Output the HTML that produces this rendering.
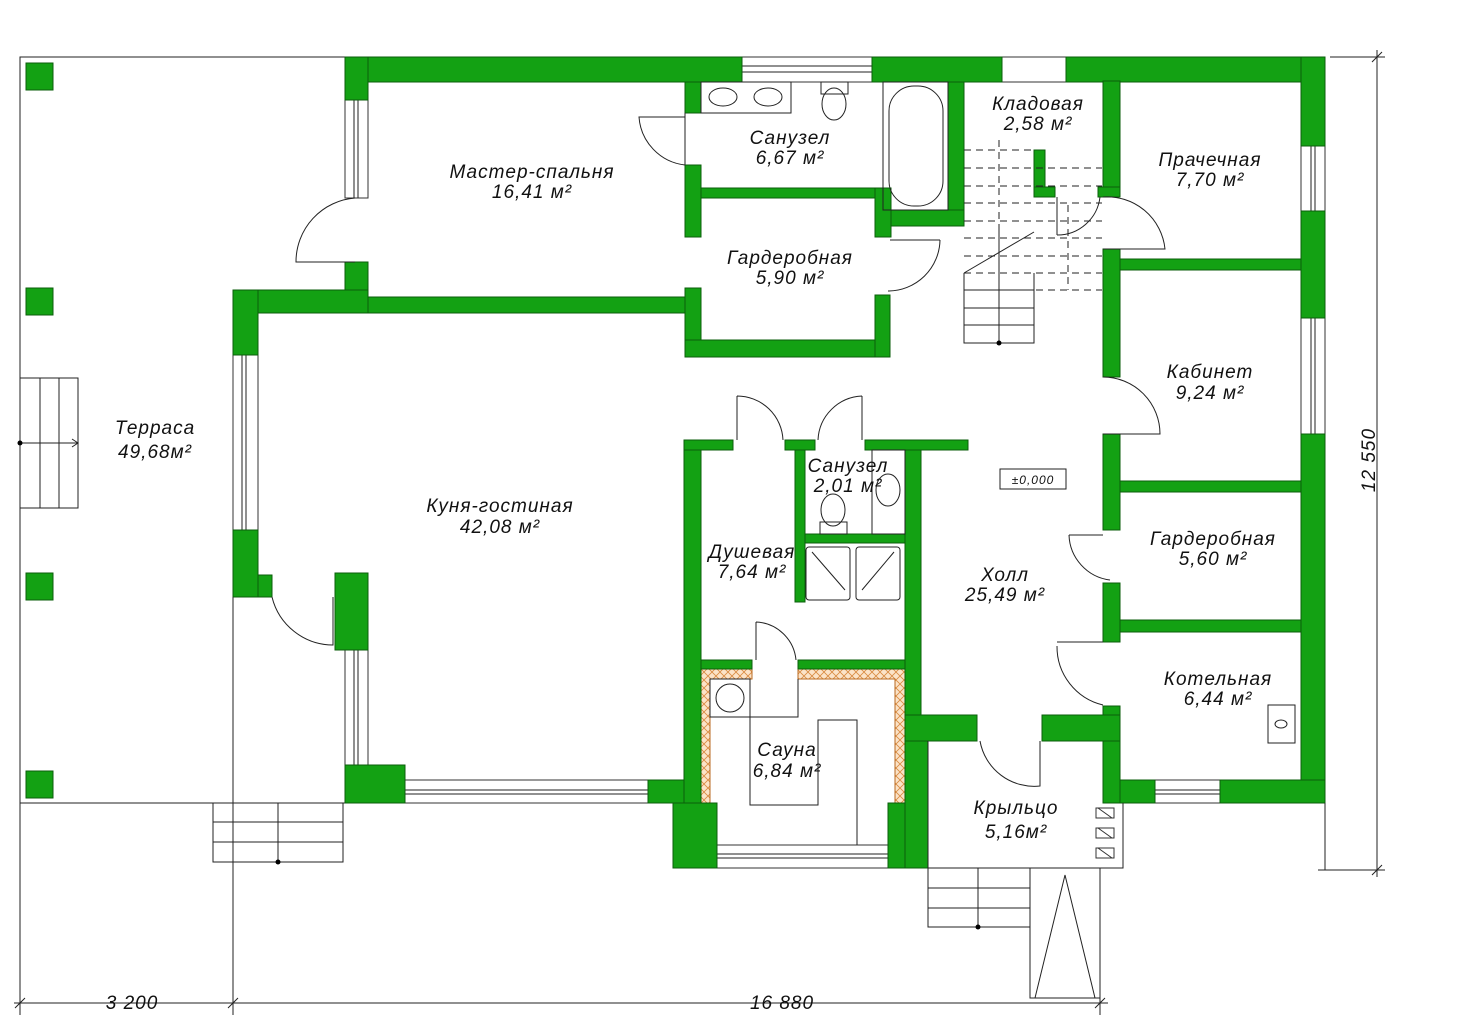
<!DOCTYPE html><html><head><meta charset="utf-8"><style>
html,body{margin:0;padding:0;background:#fff}
svg{display:block}
text{font-family:"Liberation Sans","DejaVu Sans",sans-serif;font-style:italic;font-size:19px;fill:#111;text-anchor:middle;letter-spacing:1px}
.w{fill:#13a113;stroke:#0b5e0b;stroke-width:1}
.l{fill:none;stroke:#222;stroke-width:1}
.win{fill:#fff;stroke:#333;stroke-width:1}
</style></head><body>
<svg width="1463" height="1021" viewBox="0 0 1463 1021">
<defs><pattern id="hx" width="8" height="8" patternUnits="userSpaceOnUse"><rect width="8" height="8" fill="#fbe3c8"/><path d="M0 0L8 8M8 0L0 8" stroke="#d98a40" stroke-width="0.8"/></pattern></defs>
<path class="l" d="M345 57H20V803H345" stroke="#555"/>
<rect class="w" x="26" y="63" width="27" height="27"/><rect class="w" x="26" y="288" width="27" height="27"/>
<rect class="w" x="26" y="573" width="27" height="27"/><rect class="w" x="26" y="771" width="27" height="27"/>
<rect class="l" x="20" y="378" width="58" height="130"/><path class="l" d="M40 378V508M59 378V508M20 443H78M72 439L78 443L72 447"/><circle cx="20" cy="443" r="2.5"/>
<rect class="win" x="742" y="57" width="130" height="25"/><path class="l" d="M742 66H872M742 72H872"/>
<rect class="win" x="1002" y="57" width="64" height="25"/>
<rect class="win" x="345" y="100" width="23" height="98"/><path class="l" d="M354 100V198M358 100V198"/>
<rect class="win" x="233" y="355" width="25" height="175"/><path class="l" d="M242 355V530M246 355V530"/>
<rect class="win" x="345" y="650" width="23" height="115"/><path class="l" d="M354 650V765M358 650V765"/>
<rect class="win" x="405" y="780" width="243" height="23"/><path class="l" d="M405 790H648M405 794H648"/>
<rect class="win" x="717" y="845" width="171" height="23"/><path class="l" d="M717 854H888M717 858H888"/>
<rect class="win" x="1155" y="780" width="65" height="23"/><path class="l" d="M1155 790H1220M1155 794H1220"/>
<rect class="win" x="1301" y="146" width="24" height="65"/><path class="l" d="M1311 146V211M1315 146V211"/>
<rect class="win" x="1301" y="318" width="24" height="116"/><path class="l" d="M1311 318V434M1315 318V434"/>
<path d="M700 669H752V679H710V835H717V845H700Z M798 669H905V845H888V835H895V679H798Z" fill="url(#hx)" stroke="#b86a20" stroke-width="1"/>
<g class="w">
<rect x="345" y="57" width="397" height="25"/><rect x="345" y="57" width="23" height="43"/>
<rect x="872" y="57" width="130" height="25"/><rect x="1066" y="57" width="259" height="25"/>
<rect x="1301" y="57" width="24" height="89"/><rect x="1301" y="211" width="24" height="107"/><rect x="1301" y="434" width="24" height="369"/>
<rect x="1220" y="780" width="105" height="23"/><rect x="1103" y="780" width="52" height="23"/>
<rect x="1103" y="706" width="17" height="97"/>
<rect x="1103" y="81" width="17" height="112"/><rect x="1098" y="187" width="22" height="10"/>
<rect x="1103" y="249" width="17" height="128"/><rect x="1103" y="434" width="17" height="96"/>
<rect x="1103" y="583" width="17" height="59"/>
<rect x="1120" y="259" width="181" height="11"/><rect x="1120" y="481" width="181" height="11"/><rect x="1120" y="620" width="181" height="12"/>
<rect x="948" y="82" width="16" height="144"/><rect x="875" y="210" width="89" height="16"/><rect x="875" y="188" width="16" height="49"/>
<rect x="685" y="82" width="16" height="31"/><rect x="685" y="165" width="16" height="72"/><rect x="701" y="188" width="174" height="10"/>
<rect x="685" y="288" width="16" height="69"/><rect x="685" y="340" width="205" height="17"/><rect x="875" y="295" width="15" height="62"/>
<rect x="1034" y="150" width="11" height="47"/><rect x="1034" y="187" width="21" height="10"/>
<rect x="345" y="262" width="23" height="51"/><rect x="233" y="290" width="135" height="23"/><rect x="368" y="297" width="317" height="16"/>
<rect x="233" y="290" width="25" height="65"/><rect x="233" y="530" width="25" height="67"/><rect x="258" y="575" width="14" height="22"/>
<rect x="335" y="573" width="33" height="77"/><rect x="345" y="765" width="60" height="38"/>
<rect x="648" y="780" width="53" height="23"/><rect x="684" y="440" width="17" height="428"/><rect x="673" y="803" width="44" height="65"/>
<rect x="684" y="440" width="49" height="10"/><rect x="785" y="440" width="30" height="10"/><rect x="865" y="440" width="103" height="10"/>
<rect x="795" y="450" width="10" height="152"/><rect x="805" y="534" width="100" height="9"/>
<rect x="905" y="450" width="16" height="265"/>
<rect x="701" y="660" width="51" height="9"/><rect x="798" y="660" width="107" height="9"/>
<rect x="888" y="803" width="40" height="65"/><rect x="905" y="715" width="23" height="153"/><rect x="905" y="715" width="72" height="26"/>
<rect x="1042" y="715" width="78" height="26"/>
</g>
<path class="l" d="M928 741V868H1123V803"/>
<g fill="#fff" stroke="#333"><rect x="1096" y="808" width="18" height="10"/><rect x="1096" y="828" width="18" height="10"/><rect x="1096" y="848" width="18" height="10"/></g>
<path d="M1098 808l14 10M1098 828l14 10M1098 848l14 10" stroke="#333"/>
<g class="l">
<path d="M355 198A64 64 0 0 0 296 262H355"/>
<path d="M272 597A63 63 0 0 0 333 645V597"/>
<path d="M685 113V165M685 165A52 52 0 0 1 639 117H685"/>
<path d="M890 240H940M940 240A52 52 0 0 1 888 291"/>
<path d="M1103 197A58 58 0 0 1 1165 249H1103"/>
<path d="M1103 377A57 57 0 0 1 1160 434H1103"/>
<path d="M1103 535H1069M1069 535A47 47 0 0 0 1110 580"/>
<path d="M1103 642H1057M1057 646A60 60 0 0 0 1103 705"/>
<path d="M737 440V396M737 396A46 46 0 0 1 783 440"/>
<path d="M862 440V396M862 396A46 46 0 0 0 818 440"/>
<path d="M756 660V622M756 622A42 42 0 0 1 796 660"/>
<path d="M980 741A55 55 0 0 0 1040 786V741"/>
<path d="M1057 197V235M1057 235A43 43 0 0 0 1100 197"/>
</g>
<g class="l">
<rect x="701" y="82" width="90" height="31"/><ellipse cx="723" cy="97" rx="14" ry="9"/><ellipse cx="768" cy="97" rx="14" ry="9"/>
<rect x="821" y="82" width="27" height="12"/><ellipse cx="834" cy="104" rx="12" ry="16"/>
<rect x="883" y="82" width="65" height="128"/><rect x="889" y="86" width="54" height="120" rx="25"/>
<rect x="872" y="450" width="33" height="84"/><ellipse cx="888" cy="490" rx="12" ry="16"/>
<ellipse cx="833" cy="510" rx="12" ry="16"/><rect x="820" y="522" width="27" height="12"/>
<rect x="806" y="547" width="44" height="53" rx="3"/><rect x="856" y="547" width="44" height="53" rx="3"/>
<path d="M812 552L845 590M894 552L862 590"/>
<rect x="710" y="679" width="40" height="38"/><circle cx="730" cy="698" r="14"/>
<path d="M750 679V805H818V720H857V845M750 717H798V679"/>
<rect x="1268" y="705" width="27" height="38"/><ellipse cx="1281" cy="724" rx="6" ry="4"/>
<rect x="1000" y="469" width="66" height="20"/>
</g>
<text x="1033" y="484" style="font-size:12px">±0,000</text>
<g class="l">
<path d="M964 273V343H1034V273M964 290H1034M964 308H1034M964 325H1034M999 230V343"/>
<path d="M964 273L1034 232" />
<path d="M964 150H1034M964 168H1102M964 186H1102M964 203H1102M964 221H1102M964 238H1102M964 256H1102M964 273H1102M964 290H1102" stroke-dasharray="7 5"/>
<path d="M999 140V230M1068 205V290" stroke-dasharray="7 5"/>
</g>
<circle cx="999" cy="343" r="2.5"/>
<g class="l">
<rect x="213" y="803" width="130" height="59"/><path d="M213 822H343M213 842H343M278 803V862"/>
<rect x="928" y="868" width="102" height="59"/><path d="M928 888H1030M928 908H1030M978 868V927"/>
<rect x="1030" y="868" width="70" height="130"/><path d="M1035 998L1065 875L1095 998"/>
</g>
<circle cx="278" cy="862" r="2.5"/><circle cx="978" cy="927" r="2.5"/>
<g class="l" stroke="#444">
<path d="M20 803V1015M233 597V1015M1100 998V1015M14 1003H1108M1325 803V870M1318 870H1385M1330 57H1385M1377 50V877"/>
<path d="M15 1008L25 998M228 1008L238 998M1095 1008L1105 998M1372 62L1382 52M1372 875L1382 865"/>
</g>
<text x="132" y="1009">3 200</text><text x="782" y="1009">16 880</text>
<text transform="translate(1375,460) rotate(-90)">12 550</text>
<text x="155" y="434">Терраса</text><text x="155" y="458">49,68м²</text>
<text x="532" y="178">Мастер-спальня</text><text x="532" y="198">16,41 м²</text>
<text x="790" y="144">Санузел</text><text x="790" y="164">6,67 м²</text>
<text x="790" y="264">Гардеробная</text><text x="790" y="284">5,90 м²</text>
<text x="1038" y="110">Кладовая</text><text x="1038" y="130">2,58 м²</text>
<text x="1210" y="166">Прачечная</text><text x="1210" y="186">7,70 м²</text>
<text x="1210" y="378">Кабинет</text><text x="1210" y="399">9,24 м²</text>
<text x="500" y="512">Куня-гостиная</text><text x="500" y="533">42,08 м²</text>
<text x="848" y="472">Санузел</text><text x="848" y="492">2,01 м²</text>
<text x="752" y="558">Душевая</text><text x="752" y="578">7,64 м²</text>
<text x="1005" y="581">Холл</text><text x="1005" y="601">25,49 м²</text>
<text x="1213" y="545">Гардеробная</text><text x="1213" y="565">5,60 м²</text>
<text x="1218" y="685">Котельная</text><text x="1218" y="705">6,44 м²</text>
<text x="787" y="756">Сауна</text><text x="787" y="777">6,84 м²</text>
<text x="1016" y="814">Крыльцо</text><text x="1016" y="838">5,16м²</text>
</svg></body></html>
